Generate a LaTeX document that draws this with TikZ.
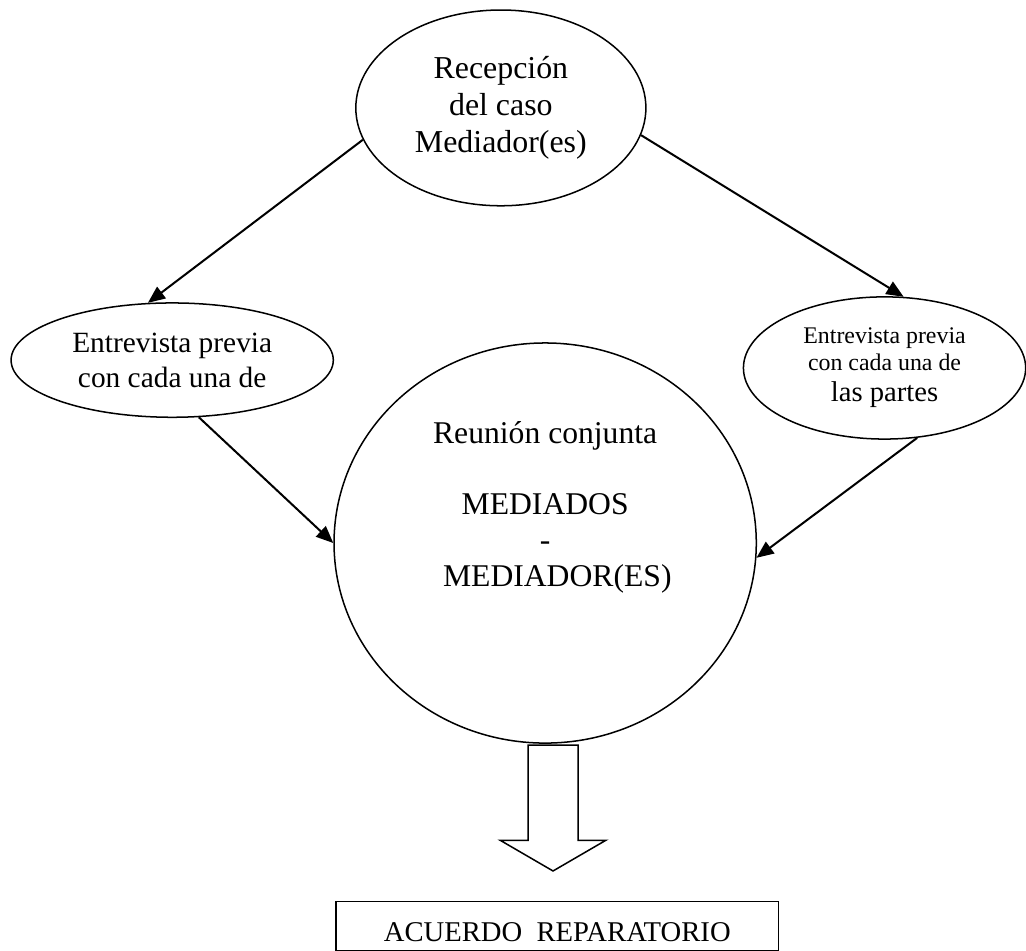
\documentclass[tikz,border=0pt]{standalone}
\usepackage{fontspec}
\setmainfont{Liberation Serif}
\usetikzlibrary{shapes.geometric,arrows.meta}

\begin{document}
\begin{tikzpicture}[
        burbuja/.style={ellipse, draw, line width=0.6pt, inner sep=0pt, align=center},
        flecha/.style={line width=0.8pt, -{Triangle[length=0.24cm, width=0.2cm]}}
    ]
        \useasboundingbox (0,0) rectangle (14.36,-13.3);

        % Nodes
        \node (recepcion) at (7.01,-1.51) [burbuja, minimum width=4.06cm, minimum height=2.74cm,
            font=\fontsize{12.7}{14.7}\selectfont] {Recepción\\del caso\\Mediador(es)};
        \node (entrevistaizq) at (2.41,-5.04) [burbuja, minimum width=4.51cm, minimum height=1.6cm,
            font=\fontsize{11.7}{13.9}\selectfont] {Entrevista previa\\con cada una de};
        \node (entrevistader) at (12.38,-5.15) [burbuja, minimum width=3.95cm, minimum height=1.99cm,
            font=\fontsize{9.5}{10.8}\selectfont] {Entrevista previa\\con cada una de\\[1.6pt]{\fontsize{11.4}{10.8}\selectfont las partes}};
        \node (reunion) at (7.63,-7.6) [burbuja, minimum width=5.91cm, minimum height=5.6cm] {};
        \node (reuniontxt) at (7.63,-7.1) [align=center, font=\fontsize{12.6}{14.3}\selectfont]
            {Reunión conjunta\\[14.3pt]MEDIADOS\\-\\\hspace*{0.34cm}MEDIADOR(ES)};
        \node (acuerdo) at (7.8,-12.96) [rectangle, draw, line width=0.6pt, minimum width=6.19cm, minimum height=0.63cm,
            text height=12.7pt, text depth=0pt, font=\fontsize{11.4}{13}\selectfont] {ACUERDO~~REPARATORIO};

        % Edges
        \draw[flecha] (recepcion.193) -- (entrevistaizq.113);
        \draw[flecha] (recepcion.349) -- (entrevistader.75);
        \draw[flecha] (entrevistaizq.295) -- (reunion.180);
        \draw[flecha] (entrevistader.295) -- (reunion.356);

        % Block arrow
        \draw[line width=0.6pt] (7.39,-10.43) -- (7.39,-11.76) -- (7.0,-11.76) -- (7.74,-12.19)
            -- (8.48,-11.76) -- (8.09,-11.76) -- (8.09,-10.43) -- cycle;
    \end{tikzpicture}
\end{document}
